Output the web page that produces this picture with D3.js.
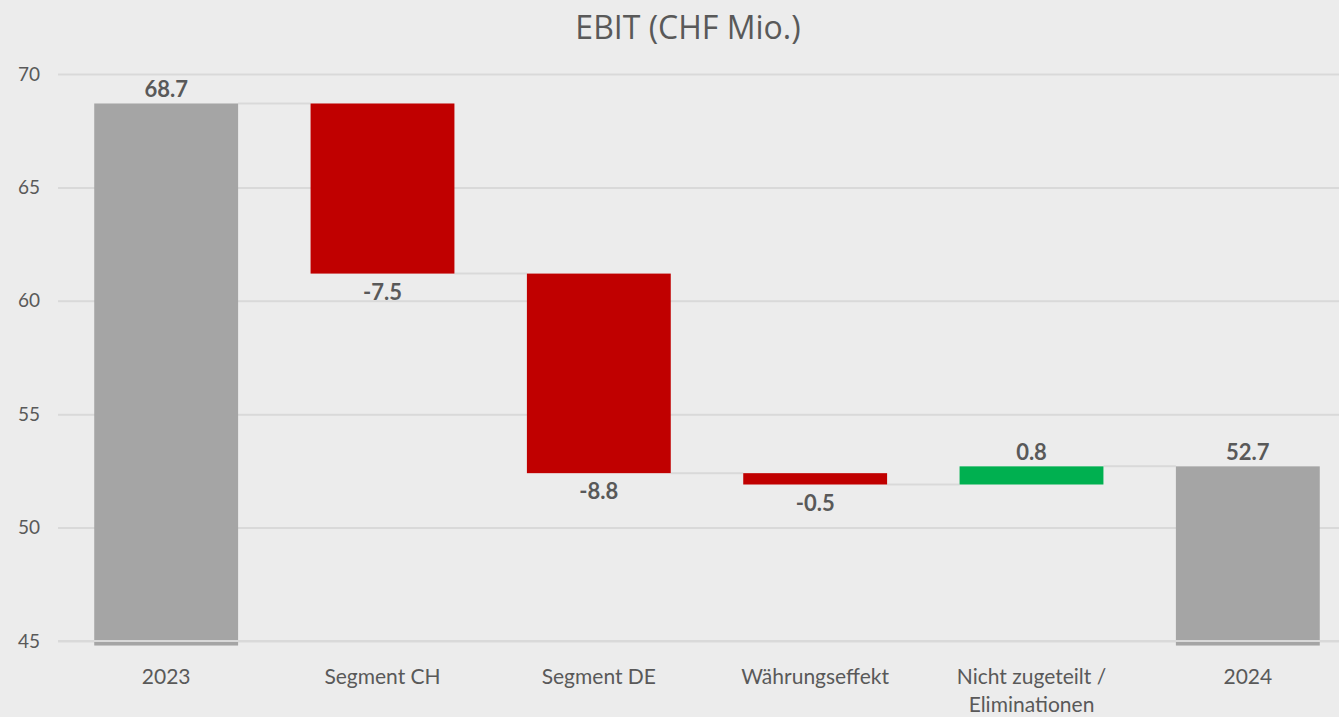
<!DOCTYPE html>
<html>
<head>
<meta charset="utf-8">
<script src="https://cdn.jsdelivr.net/npm/d3@7"></script>
<style>
    html, body { margin: 0; padding: 0; background: #ececec; }
    svg { display: block; }
</style>
</head>
<body>
<div id="chart"></div>
<script>
// The data...
var categories = [ '2023', 'Segment CH', 'Segment DE', 'Währungseffekt', 'Nicht zugeteilt /\nEliminationen', '2024' ];
var values     = [ 68.7, -7.5, -8.8, -0.5, 0.8, 52.7 ];
var isTotal    = [ true, false, false, false, false, true ];
var yTicks     = [ 45, 50, 55, 60, 65, 70 ];

var colours = { total: '#a5a5a5', down: '#c00000', up: '#00b050' };

var width  = 1339;
var height = 717;

var margin = { top: 74, right: 0, bottom: 75, left: 58 };

var svg = d3.select ('#chart').append ('svg')
            .attr ('width', width)
            .attr ('height', height);

svg.append ('rect')
   .attr ('width', width)
   .attr ('height', height)
   .attr ('fill', '#ececec');

// Title
svg.append ('text')
   .attr ('x', 688)
   .attr ('y', 39)
   .attr ('text-anchor', 'middle')
   .attr ('font-family', 'Open Sans, sans-serif')
   .attr ('font-size', '32px')
   .attr ('fill', '#595959')
   .text ('EBIT (CHF Mio.)');

// Work out the start / end of every bar
var bars = [];
var running = 0;
for (var i = 0; i < values.length; i++)
{
    if (isTotal[i])
    {
        bars.push ({ name: categories[i], value: values[i], start: 44.8, end: values[i], total: true });
        running = values[i];
    }
    else
    {
        var next = Math.round ((running + values[i]) * 10) / 10;
        bars.push ({ name: categories[i], value: values[i], start: running, end: next, total: false });
        running = next;
    }
}

var xScale = d3.scaleBand ()
               .domain (categories)
               .range ([ margin.left, 1356 ])
               .paddingInner (0.335)
               .paddingOuter (0.1675);

var yScale = d3.scaleLinear ()
               .domain ([ 45, 70 ])
               .range ([ height - margin.bottom - 1, margin.top ]);

// Grid lines
var yAxis = d3.axisLeft (yScale)
              .tickValues (yTicks)
              .tickSize (-(width - margin.left))
              .tickPadding (18)
              .tickFormat (d3.format ('d'));

var gy = svg.append ('g')
            .attr ('class', 'y axis')
            .attr ('transform', 'translate(' + margin.left + ',0)')
            .call (yAxis);

gy.select ('.domain').remove ();
gy.selectAll ('line').attr ('stroke', '#d9d9d9').attr ('stroke-width', 2);
gy.selectAll ('text')
  .attr ('font-family', 'Lato, sans-serif')
  .attr ('font-size', '19px')
  .attr ('fill', '#595959');

// Connector lines between bars
for (var i = 0; i < bars.length - 1; i++)
{
    svg.append ('line')
       .attr ('x1', xScale (bars[i].name) + xScale.bandwidth ())
       .attr ('x2', xScale (bars[i + 1].name))
       .attr ('y1', yScale (bars[i].end))
       .attr ('y2', yScale (bars[i].end))
       .attr ('stroke', '#d9d9d9')
       .attr ('stroke-width', 2);
}

// Bars
svg.selectAll ('rect.bar')
   .data (bars)
   .enter ()
   .append ('rect')
   .attr ('class', 'bar')
   .attr ('x', function (d) { return xScale (d.name); })
   .attr ('y', function (d) { return yScale (Math.max (d.start, d.end)); })
   .attr ('width', xScale.bandwidth ())
   .attr ('height', function (d) { return Math.abs (yScale (d.start) - yScale (d.end)); })
   .attr ('fill', function (d) {
        if (d.total) return colours.total;
        return d.value < 0 ? colours.down : colours.up;
   });

// Baseline over the bars
svg.append ('line')
   .attr ('x1', margin.left)
   .attr ('x2', width)
   .attr ('y1', yScale (45))
   .attr ('y2', yScale (45))
   .attr ('stroke', '#d9d9d9')
   .attr ('stroke-width', 2);

// Value labels
svg.selectAll ('text.value')
   .data (bars)
   .enter ()
   .append ('text')
   .attr ('class', 'value')
   .attr ('x', function (d) { return xScale (d.name) + xScale.bandwidth () / 2; })
   .attr ('y', function (d) {
        if (d.total || d.value > 0) return yScale (d.end) - 6;
        return yScale (d.end) + 26;
   })
   .attr ('text-anchor', 'middle')
   .attr ('font-family', 'Lato, sans-serif')
   .attr ('font-weight', 'bold')
   .attr ('font-size', '22px')
   .attr ('fill', '#595959')
   .text (function (d) { return d.value.toFixed (1); });

// Category labels
svg.selectAll ('text.cat')
   .data (categories)
   .enter ()
   .append ('text')
   .attr ('class', 'cat')
   .attr ('x', function (d) { return xScale (d) + xScale.bandwidth () / 2; })
   .attr ('y', 684)
   .attr ('text-anchor', 'middle')
   .attr ('font-family', 'Lato, sans-serif')
   .attr ('font-size', '21px')
   .attr ('fill', '#595959')
   .each (function (d) {
        var lines = d.split ('\n');
        var t = d3.select (this);
        for (var j = 0; j < lines.length; j++)
        {
            t.append ('tspan')
             .attr ('x', xScale (d) + xScale.bandwidth () / 2)
             .attr ('dy', j == 0 ? 0 : 28)
             .text (lines[j]);
        }
   });
</script>
</body>
</html>
